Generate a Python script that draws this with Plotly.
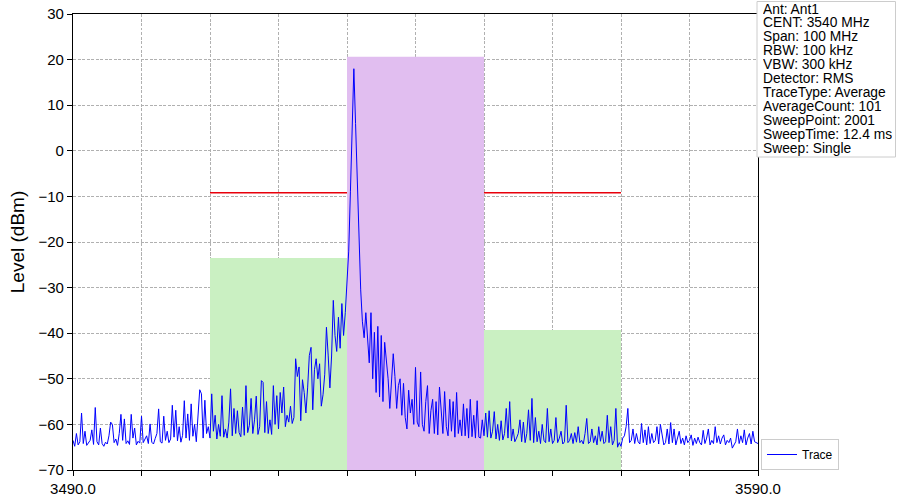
import numpy as np
import plotly.graph_objects as go

# ---------------- data ----------------
freq_start = 3490.0
freq_stop = 3590.0

# Trace level (dBm) at 0.25 MHz steps, 3490 .. 3590 MHz
level_3490_3510 = [
    -63.5, -64.8, -62.0, -64.5,
    -63.8, -57.5, -64.2, -61.5,
    -64.6, -64.0, -63.5, -61.2,
    -64.4, -56.3, -63.8, -64.5,
    -60.8, -64.2, -64.8, -63.9,
    -64.3, -62.5, -59.5, -60.0,
    -64.0, -63.2, -64.6, -62.0,
    -57.8, -63.5, -58.8, -64.2,
    -63.6, -64.4, -57.8, -63.0,
    -60.8, -64.5, -63.7, -64.1,
    -58.2, -64.0, -63.4, -62.5,
    -64.2, -59.9, -63.9, -64.3,
    -63.1, -62.0, -56.6, -63.8,
    -64.1, -58.2, -63.5, -61.5,
    -64.0, -63.2, -55.8, -62.8,
    -56.9, -63.6, -60.5, -63.9,
    -62.4, -54.8, -63.0, -57.7,
    -63.5, -55.5, -62.6, -60.0,
    -63.8, -59.0, -52.4, -53.3,
    -63.0, -54.7, -62.0, -60.5,
]
level_3510_3530 = [
    -63.0, -53.3, -61.5, -58.0,
    -63.2, -60.0, -62.6, -53.7,
    -62.8, -61.0, -63.0, -59.5,
    -52.2, -62.5, -56.5, -62.0,
    -57.0, -61.8, -62.7, -56.2,
    -62.4, -51.5, -61.8, -60.2,
    -54.3, -62.0, -59.0, -53.8,
    -62.2, -60.5, -50.4, -50.8,
    -61.8, -55.0, -62.0, -59.0,
    -62.2, -51.5, -60.0, -53.7,
    -61.0, -53.0, -57.5, -51.8,
    -60.5, -58.0, -59.5, -56.0,
    -59.8, -58.5, -45.6, -49.5,
    -47.4, -59.2, -50.2, -53.0,
    -57.5, -52.0, -44.9, -43.1,
    -56.8, -48.0, -45.6, -50.0,
    -46.7, -56.0, -53.5, -49.0,
    -38.7, -44.8, -52.0, -45.0,
    -32.8, -40.5, -44.0, -36.5,
    -43.3, -33.5, -40.5, -35.5,
]
level_3530_3550 = [
    -29.0, -22.0, -9.0, 8.0,
    18.0, 6.0, -7.5, -19.5,
    -30.5, -37.5, -41.0, -35.5,
    -40.5, -46.5, -35.5, -50.0,
    -39.8, -53.0, -38.5, -54.0,
    -40.5, -55.0, -42.0, -46.5,
    -50.0, -56.5, -49.0, -44.5,
    -49.5, -56.5, -51.5, -50.0,
    -58.0, -51.0, -58.5, -61.0,
    -52.5, -57.5, -54.5, -60.0,
    -47.5, -59.5, -60.5, -48.5,
    -60.0, -61.5, -55.0, -51.5,
    -62.0, -57.0, -54.5, -62.0,
    -55.0, -62.3, -51.8, -58.0,
    -62.0, -52.8, -60.5, -62.5,
    -54.5, -61.5, -55.0, -62.8,
    -53.0, -62.0, -59.0, -62.5,
    -55.5, -62.5, -56.5, -63.0,
    -54.5, -62.7, -58.0, -63.0,
    -54.8, -62.8, -63.0, -59.0,
]
level_3550_3570 = [
    -62.5, -57.5, -62.8, -57.0,
    -63.0, -61.5, -57.2, -63.2,
    -60.0, -63.5, -59.2, -63.4,
    -62.0, -56.5, -63.0, -55.0,
    -63.6, -61.0, -63.8, -63.0,
    -62.0, -59.0, -63.8, -59.5,
    -64.0, -62.0, -56.8, -63.5,
    -54.3, -64.0, -58.5, -63.8,
    -61.5, -64.2, -60.0, -63.5,
    -64.0, -56.5, -63.8, -61.0,
    -64.2, -63.5, -58.5, -64.0,
    -63.0, -61.5, -64.3, -63.8,
    -55.8, -64.0, -63.5, -62.0,
    -64.2, -61.8, -63.9, -60.5,
    -64.0, -63.5, -64.3, -62.0,
    -58.7, -64.2, -63.8, -61.0,
    -64.0, -62.5, -64.5, -60.5,
    -63.7, -61.5, -64.2, -63.8,
    -58.0, -64.0, -60.5, -64.5,
    -63.5, -56.5, -65.0, -64.0,
]
level_3570_3590 = [
    -64.8, -63.0, -62.5, -60.5,
    -56.5, -64.0, -63.5, -61.0,
    -64.2, -62.0, -63.8, -64.3,
    -59.8, -64.0, -61.2, -64.5,
    -60.5, -64.2, -62.0, -64.0,
    -63.5, -60.5, -64.3, -60.0,
    -62.0, -64.5, -64.0, -61.0,
    -64.3, -59.6, -64.0, -61.0,
    -64.5, -63.0, -61.5, -64.2,
    -63.0, -64.5, -62.5, -64.0,
    -63.5, -62.3, -64.6, -63.0,
    -64.2, -62.8, -64.0, -64.5,
    -61.3, -64.2, -63.0, -61.0,
    -64.5, -63.5, -64.2, -60.5,
    -64.0, -62.5, -64.3, -63.0,
    -62.3, -64.5, -63.5, -64.0,
    -63.0, -65.2, -64.5, -63.8,
    -61.0, -64.2, -62.5, -64.0,
    -61.2, -64.5, -63.0, -62.0,
    -64.3, -61.5, -63.8, -64.0,
    -64.2,
]
level = (level_3490_3510 + level_3510_3530 + level_3530_3550
         + level_3550_3570 + level_3570_3590)

# Channel bands (MHz) and their power levels (dBm)
band_start = [3510, 3530, 3550]
band_stop = [3530, 3550, 3570]
band_level = [-23.5, 20.6, -39.3]
band_color = ["#caf0c2", "#e1bef0", "#caf0c2"]

# Limit line
limit_freq = [3510, 3570]
limit_level = [-9.2, -9.2]

# Axes
y_range = [-70, 30]
x_tick_vals = [3490, 3500, 3510, 3520, 3530, 3540, 3550, 3560, 3570, 3580, 3590]
x_tick_text = ["3490.0", "", "", "", "", "", "", "", "", "", "3590.0"]

info_lines = [
    "Ant: Ant1",
    "CENT: 3540 MHz",
    "Span: 100 MHz",
    "RBW: 100 kHz",
    "VBW: 300 kHz",
    "Detector: RMS",
    "TraceType: Average",
    "AverageCount: 101",
    "SweepPoint: 2001",
    "SweepTime: 12.4 ms",
    "Sweep: Single",
]

# ---------------- figure ----------------
freq = np.linspace(freq_start, freq_stop, len(level))

FONT = "Arial, Liberation Sans, Helvetica, sans-serif"
fig = go.Figure()

# limit line (drawn first so the main band covers it)
fig.add_trace(go.Scatter(
    x=limit_freq, y=limit_level, mode="lines",
    line=dict(color="#e8000b", width=1.6), showlegend=False, hoverinfo="skip"))

for x0, x1, top, col in zip(band_start, band_stop, band_level, band_color):
    fig.add_trace(go.Scatter(
        x=[x0, x0, x1, x1, x0], y=[y_range[0], top, top, y_range[0], y_range[0]],
        mode="lines", fill="toself", fillcolor=col, line=dict(width=0, color=col),
        showlegend=False, hoverinfo="skip"))

fig.add_trace(go.Scatter(
    x=freq, y=level, mode="lines", name="Trace",
    line=dict(color="#0000ff", width=1)))

# layout geometry
W, H = 897, 499
ml, mr, mt, mb = 73, 139, 14, 29
plot_h = H - mt - mb
plot_w = W - ml - mr


def py(px_y):
    return 1 + (mt - px_y) / plot_h


def px(px_x):
    return (px_x - ml) / plot_w


annotations = []
for i, line in enumerate(info_lines):
    annotations.append(dict(
        text=line, xref="paper", yref="paper", x=px(762), y=py(8.5 + 13.9 * i),
        xanchor="left", yanchor="middle", showarrow=False, height=16,
        borderpad=0, font=dict(family=FONT, size=13.8, color="#000000")))

fig.update_layout(
    width=W, height=H, autosize=False,
    margin=dict(l=ml, r=mr, t=mt, b=mb, autoexpand=False),
    paper_bgcolor="white", plot_bgcolor="white",
    font=dict(family=FONT, color="#000000"),
    annotations=annotations,
    shapes=[dict(type="rect", xref="paper", yref="paper",
                 x0=px(757), x1=px(895.5), y0=py(157), y1=py(1.5),
                 line=dict(color="#cccccc", width=1), fillcolor="white", layer="above")],
    legend=dict(x=px(761), y=0, xanchor="left", yanchor="bottom",
                bordercolor="#cccccc", borderwidth=1, bgcolor="white",
                font=dict(family=FONT, size=12)),
    showlegend=True,
)

axis_common = dict(
    showline=True, linecolor="black", linewidth=1.3, mirror=True,
    ticks="outside", ticklen=5, tickwidth=1.2, tickcolor="black",
    showgrid=True, gridcolor="#b0b0b0", griddash="3px,1.5px", gridwidth=0.8,
    zeroline=False, automargin=False,
)
fig.update_xaxes(range=[freq_start, freq_stop], tickvals=x_tick_vals,
                 ticktext=x_tick_text, tickfont=dict(size=15), **axis_common)
fig.update_yaxes(range=y_range, dtick=10, tick0=0, tickfont=dict(size=15),
                 title=dict(text="Level (dBm)", font=dict(size=19), standoff=8),
                 **axis_common)

fig.write_html(
    "out.html",
    config={"displayModeBar": False},
    post_script="document.body.style.margin='0';document.body.style.padding='0';",
)
